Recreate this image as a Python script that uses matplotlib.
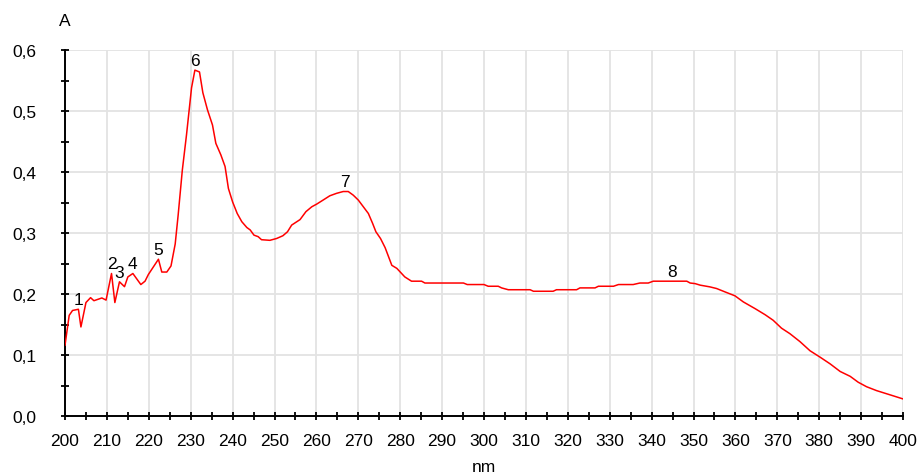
import numpy as np
import matplotlib
matplotlib.use("Agg")
import matplotlib.pyplot as plt
from matplotlib.ticker import MultipleLocator, FuncFormatter

wavelength = [200.0, 201.0, 201.8, 203.2, 203.8, 205.0, 206.1, 206.9, 208.8, 209.8,
              211.1, 211.9, 213.0, 214.2, 215.0, 216.2, 218.1, 219.1, 219.9, 222.3,
              223.1, 224.3, 225.3, 226.3, 227.0, 228.0, 229.0, 230.2, 231.0, 232.1,
              232.9, 234.0, 235.2, 236.0, 237.2, 238.2, 239.0, 240.0, 241.1, 242.2,
              243.4, 244.2, 245.1, 246.1, 246.9, 248.9, 250.5, 252.0, 253.1, 254.1,
              256.1, 257.5, 258.9, 260.1, 261.6, 263.2, 264.8, 266.4, 267.6, 268.8,
              270.0, 271.2, 272.4, 273.4, 274.2, 275.3, 276.4, 278.0, 279.2, 281.1,
              282.7, 285.1, 285.9, 295.1, 296.0, 300.0, 301.0, 303.4, 304.2, 305.8,
              311.0, 311.8, 316.5, 317.3, 322.1, 322.9, 326.5, 327.3, 330.9, 332.1,
              335.6, 337.2, 339.2, 340.4, 348.4, 349.2, 350.4, 351.6, 353.9, 355.5,
              357.5, 359.9, 361.9, 364.7, 367.1, 369.0, 371.0, 373.0, 375.4, 377.8,
              380.2, 382.6, 385.0, 387.4, 389.3, 391.3, 393.7, 397.0, 400.0]
absorbance = [0.116, 0.165, 0.173, 0.175, 0.146, 0.186, 0.194, 0.189, 0.1935, 0.190,
              0.2336, 0.186, 0.220, 0.212, 0.228, 0.2336, 0.2155, 0.221, 0.232, 0.257,
              0.236, 0.236, 0.246, 0.282, 0.329, 0.403, 0.461, 0.538, 0.567, 0.564,
              0.530, 0.502, 0.477, 0.447, 0.428, 0.409, 0.373, 0.351, 0.332, 0.3185,
              0.309, 0.305, 0.2965, 0.294, 0.289, 0.288, 0.291, 0.2955, 0.302, 0.313,
              0.322, 0.335, 0.343, 0.3475, 0.354, 0.361, 0.365, 0.368, 0.368, 0.362,
              0.354, 0.343, 0.332, 0.316, 0.302, 0.291, 0.276, 0.247, 0.242, 0.228,
              0.221, 0.221, 0.218, 0.218, 0.2155, 0.2155, 0.2127, 0.2127, 0.210, 0.207,
              0.207, 0.2045, 0.2045, 0.207, 0.207, 0.210, 0.210, 0.2127, 0.2127, 0.2155,
              0.2155, 0.218, 0.218, 0.221, 0.221, 0.218, 0.217, 0.2145, 0.2117, 0.209,
              0.2035, 0.197, 0.187, 0.176, 0.166, 0.157, 0.144, 0.135, 0.122, 0.107,
              0.0965, 0.0855, 0.073, 0.065, 0.0554, 0.048, 0.0416, 0.0345, 0.028]

peak_wavelengths = [203.2, 211.1, 213.0, 216.2, 222.3, 231.0, 266.9, 345.0]
peak_labels = ["1", "2", "3", "4", "5", "6", "7", "8"]

plt.rcParams['font.family'] = ['Liberation Sans', 'DejaVu Sans']

W, H = 924, 477
fig = plt.figure(figsize=(W / 100, H / 100), dpi=100)
ax = fig.add_axes([65 / W, 1 - 417 / H, (903 - 65) / W, (417 - 51) / H])

ax.plot(wavelength, absorbance, color='#ff0000', lw=1.1, zorder=3)

for wl, lab in zip(peak_wavelengths, peak_labels):
    a = float(np.interp(wl, wavelength, absorbance))
    ax.annotate(lab, (wl, a), xytext=(0, 7), textcoords='offset points',
                ha='center', va='center', fontsize=12.5, color='black', zorder=4)

ax.set_xlim(200, 400)
ax.set_ylim(0, 0.6)

ax.xaxis.set_major_locator(MultipleLocator(10))
ax.xaxis.set_minor_locator(MultipleLocator(5))
ax.yaxis.set_major_locator(MultipleLocator(0.1))
ax.yaxis.set_minor_locator(MultipleLocator(0.05))
ax.yaxis.set_major_formatter(FuncFormatter(lambda v, p: f"{v:.1f}".replace('.', ',')))
ax.xaxis.set_major_formatter(FuncFormatter(lambda v, p: f"{v:.0f}"))

ax.grid(True, which='major', color='#e3e3e3', lw=1.3, zorder=0)
ax.set_axisbelow(True)

for s in ['top', 'right']:
    ax.spines[s].set_visible(False)
for s in ['left', 'bottom']:
    ax.spines[s].set_linewidth(1.4)
    ax.spines[s].set_color('black')

ax.tick_params(which='both', direction='inout', length=5.5, width=1.3, color='black')
ax.tick_params(axis='y', which='major', pad=18, labelsize=12.5)
ax.tick_params(axis='x', which='major', pad=9.5, labelsize=12.5)

fig.text(65 / W, 1 - 22 / H, "A", ha='center', va='center', fontsize=12.5)
fig.text(484 / W, 1 - 468 / H, "nm", ha='center', va='center', fontsize=12.5)

fig.savefig("out.png", dpi=100)
